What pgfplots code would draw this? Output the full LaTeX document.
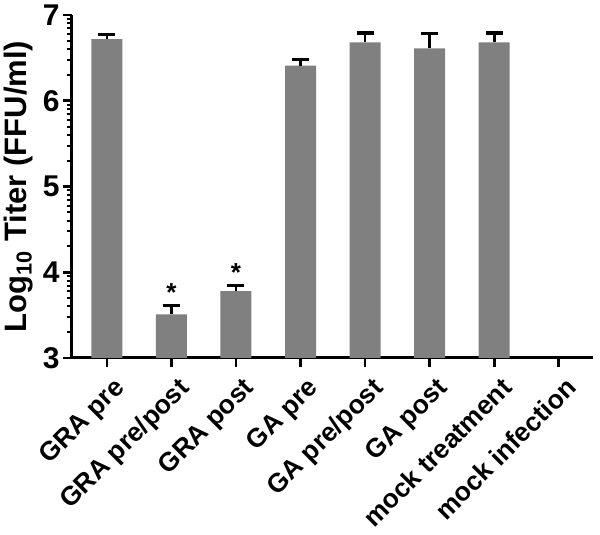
\documentclass[border=0pt]{standalone}
\usepackage{pgfplots}
\pgfplotsset{compat=1.18}
\usepackage{fontspec}
\setmainfont{Liberation Sans}
\definecolor{bargray}{HTML}{808080}
\begin{document}
\begin{tikzpicture}
\useasboundingbox (0,0) rectangle (300pt,267.5pt);
\begin{axis}[
  at={(36pt,88.5pt)}, anchor=south west,
  scale only axis,
  width=260.5pt, height=171.5pt,
  xmin=-0.54, xmax=7.53,
  ymin=3, ymax=7,
  axis x line*=bottom, axis y line*=left,
  axis line style={line width=1.5pt, -},
  xtick={0,1,2,3,4,5,6,7},
  xticklabels={GRA pre,GRA pre/post,GRA post,GA pre,GA pre/post,GA post,mock treatment,mock infection},
  ytick={3,4,5,6,7},
  minor ytick={3.301,3.477,3.602,3.699,3.778,3.845,3.903,3.954,
               4.301,4.477,4.602,4.699,4.778,4.845,4.903,4.954,
               5.301,5.477,5.602,5.699,5.778,5.845,5.903,5.954,
               6.301,6.477,6.602,6.699,6.778,6.845,6.903,6.954},
  tick align=outside,
  major tick length=4.5pt, minor tick length=2.5pt,
  every tick/.style={black, line width=1.3pt},
  minor tick style={line width=1pt},
  /pgf/number format/assume math mode=true,
  xticklabel style={font=\fontsize{13.2}{15}\selectfont\bfseries, rotate=45, anchor=north east, inner sep=2pt, yshift=-3pt, xshift=1pt},
  yticklabel style={font=\fontsize{15}{17}\selectfont\bfseries, inner sep=1.5pt},
  ylabel={Log\textsubscript{10} Titer (FFU/ml)},
  ylabel style={font=\fontsize{15.5}{18}\selectfont\bfseries},
  clip=false,
]
\addplot[ybar, bar width=15.5pt, fill=bargray, draw=none,
  error bars/.cd, y dir=plus, y explicit,
  error bar style={line width=1.3pt, black},
  error mark options={rotate=90, mark size=4.25pt, line width=1.6pt, black}]
 coordinates {
  (0,6.72) +- (0,0.05)
  (1,3.51) +- (0,0.10)
  (2,3.78) +- (0,0.07)
  (3,6.41) +- (0,0.07)
  (4,6.68) +- (0,0.11)
  (5,6.61) +- (0,0.17)
  (6,6.68) +- (0,0.11)
 };
\node[font=\fontsize{13}{14}\selectfont\bfseries, inner sep=0pt] at (axis cs:1,3.76) {*};
\node[font=\fontsize{13}{14}\selectfont\bfseries, inner sep=0pt] at (axis cs:2,4.00) {*};
\end{axis}
\end{tikzpicture}
\end{document}
